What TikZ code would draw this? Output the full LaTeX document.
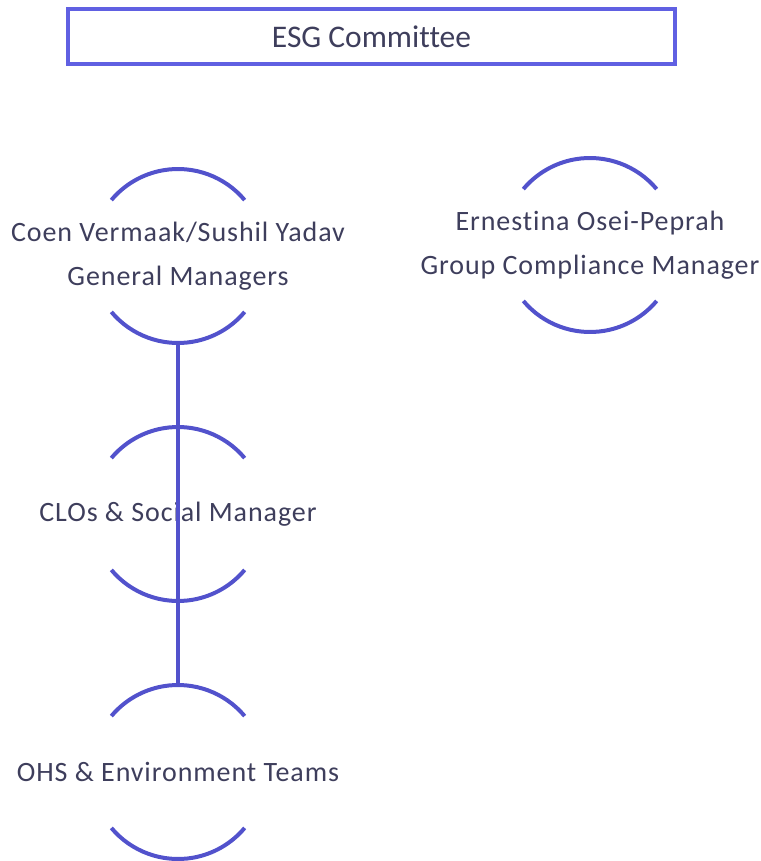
\documentclass[tikz,border=0pt]{standalone}
\usepackage{fontspec}
\setmainfont[Ligatures={NoCommon}]{Carlito}
\newfontfamily\spacedfont[Ligatures={NoCommon}, LetterSpace=3.3]{Carlito}
\usepackage{tikz}
\usepackage{color}

\definecolor{ringblue}{RGB}{82,82,204}
\definecolor{boxblue}{RGB}{96,96,226}
\definecolor{labelgray}{RGB}{62,62,92}

\tikzset{
  ringline/.style={draw=ringblue, line width=4pt},
  ringlabel/.style={text=labelgray, font=\spacedfont\fontsize{28}{44}\selectfont, align=center, inner sep=0pt},
}

\newcommand{\halfrings}[1]{%
  \draw [ringline] (#1) ++(40:87pt) arc[start angle=40, end angle=140, radius=87pt];
  \draw [ringline] (#1) ++(220:87pt) arc[start angle=220, end angle=320, radius=87pt];
}

\begin{document}
\begin{tikzpicture}[%
      x=1pt, y=1pt,
      ]
      \useasboundingbox (0,0) rectangle (760,-861);

      % committee box
      \node [draw=boxblue, line width=4pt, minimum width=607pt, minimum height=55pt,
             text=labelgray, font=\fontsize{31.5}{36}\selectfont, inner sep=0pt]
            (esg) at (371.5,-36.5) {ESG Committee};

      % ring centres
      \coordinate (gm-c) at (178,-256);
      \coordinate (clo-c) at (178,-514);
      \coordinate (ohs-c) at (178,-772);
      \coordinate (gcm-c) at (590,-245);
      \coordinate (gm-s) at (178,-343);
      \coordinate (ohs-n) at (178,-685);

      \halfrings{gm-c}
      \halfrings{clo-c}
      \halfrings{ohs-c}
      \halfrings{gcm-c}

      \node [ringlabel] (gm) at (gm-c) {Coen Vermaak/Sushil Yadav\\General Managers};
      \node [ringlabel] (clo) at (clo-c) {CLOs \& Social Manager};
      \node [ringlabel] (ohs) at (ohs-c) {OHS \& Environment Teams};
      \node [ringlabel] (gcm) at (gcm-c) {Ernestina Osei-Peprah\\Group Compliance Manager};

      \draw [ringline] (gm-s) -- (ohs-n);
      \end{tikzpicture}
\end{document}
